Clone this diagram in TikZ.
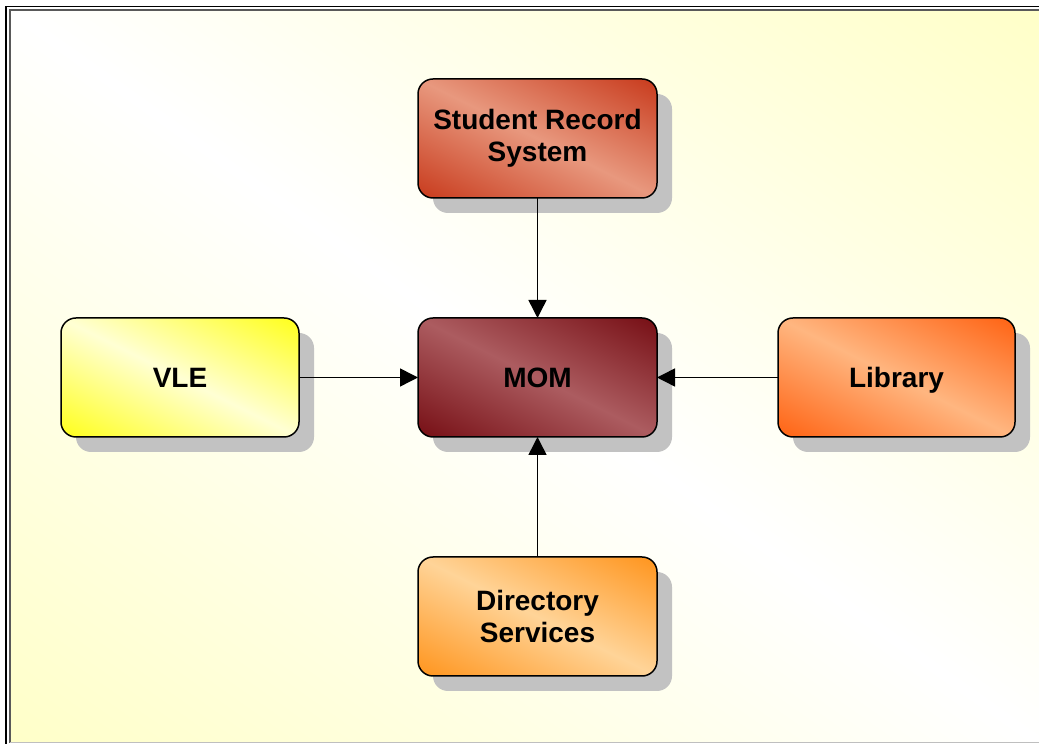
\documentclass[tikz,border=0pt]{standalone}
\usepackage{fontspec}
\setmainfont{Liberation Sans}
\usetikzlibrary{arrows.meta}

% box colours: dark corner tone and light middle tone
\definecolor{bgy}{RGB}{255,255,200}
\definecolor{srsD}{RGB}{200,58,28}
\definecolor{srsL}{RGB}{232,152,126}
\definecolor{momD}{RGB}{118,14,20}
\definecolor{momL}{RGB}{172,92,96}
\definecolor{vleD}{RGB}{255,255,25}
\definecolor{vleL}{RGB}{255,255,212}
\definecolor{libD}{RGB}{255,98,18}
\definecolor{libL}{RGB}{255,182,128}
\definecolor{dirD}{RGB}{255,148,28}
\definecolor{dirL}{RGB}{255,212,152}
\colorlet{boxD}{black}
\colorlet{boxL}{white}

% diagonal blend: dark at both ends, light in the middle
\pgfdeclarehorizontalshading[boxD,boxL]{diagblend}{100bp}{%
  color(0bp)=(boxD); color(25bp)=(boxD); color(50bp)=(boxL);
  color(75bp)=(boxD); color(100bp)=(boxD)}

\tikzset{
  sysbox/.style={draw=black, line width=1.5pt, rounded corners=15pt,
    minimum height=119pt, inner sep=0pt, outer sep=0pt,
    align=center, font=\fontsize{28}{32}\selectfont\bfseries},
  boxshadow/.style={fill=black!24, rounded corners=15pt},
  conn/.style={draw=black, line width=1.5pt, -{Triangle[length=18pt,width=18pt]}}
}

% fill a rectangle (centre cx,cy; size w x h) with the diagonal blend
\newcommand\diagfill[6]{%
  \begin{scope}
    \clip[rounded corners=#6] (#1-#3/2,#2-#4/2) rectangle ++(#3,#4);
    \colorlet{boxD}{#5D}\colorlet{boxL}{#5L}%
    \shade[shading=diagblend,
      transform canvas={shift={(#1,#2)}, xscale=#3/2, yscale=#4/2, rotate=45}]
      (-1.42,-1.42) rectangle (1.42,1.42);
  \end{scope}}

% system box: name, cx, cy, width, colour prefix, extra options, label
\newcommand\sysnode[7]{%
  \fill[boxshadow] (#2-#4/2+15,#3-59.5-15) rectangle ++(#4,119);
  \diagfill{#2}{#3}{#4}{119}{#5}{15pt}%
  \node[sysbox, minimum width=#4pt, #6] (#1) at (#2,#3) {#7};}

\colorlet{bgD}{bgy}
\colorlet{bgL}{white}

\begin{document}
\begin{tikzpicture}[x=1pt,y=1pt]
\useasboundingbox (0,0) rectangle (1039,744);
\fill[white] (0,0) rectangle (1039,744);

% page background and frame
\diagfill{524.5}{368}{1029}{732}{bg}{0pt}
\draw[black, line width=1.5pt] (5.75,0) -- (5.75,737.5) -- (1039,737.5);
\draw[black!65, line width=2pt] (9.5,1) -- (9.5,734.25) -- (1039,734.25);
\draw[black!25, line width=1pt] (10,1.5) -- (1039,1.5);

% systems
\sysnode{srs}{537.5}{605.5}{239}{srs}{}{Student Record\\System}
\sysnode{mom}{537.5}{366.5}{239}{mom}{}{MOM}
\sysnode{vle}{180}{366.5}{238}{vle}{}{VLE}
\sysnode{lib}{896.5}{366.5}{237}{lib}{text depth=0pt}{Library}
\sysnode{dir}{537.5}{127.5}{239}{dir}{}{Directory\\Services}

% links into the middleware
\draw[conn] (srs) -- (mom);
\draw[conn] (vle) -- (mom);
\draw[conn] (lib) -- (mom);
\draw[conn] (dir) -- (mom);
\end{tikzpicture}
\end{document}
